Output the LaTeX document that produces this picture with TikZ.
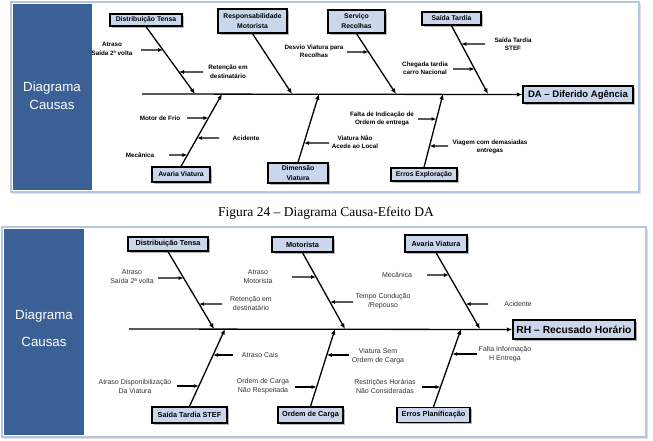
\documentclass[tikz,border=0pt]{standalone}
\usepackage{fontspec}
\setmainfont{Liberation Sans}
\newfontfamily\capfont{Liberation Serif}
\usetikzlibrary{arrows.meta,shadows}
\definecolor{panelblue}{HTML}{3B6095}
\definecolor{framec}{HTML}{B5C7DF}
\definecolor{boxfill}{HTML}{CAD6EB}
\begin{document}
\begin{tikzpicture}[x=1pt,y=-1pt,
 frame/.style={draw=framec, line width=2.5pt, fill=white, drop shadow={shadow xshift=1.5pt, shadow yshift=-1.5pt, opacity=0.25}},
 panel/.style={fill=panelblue, draw=none},
 paneltext/.style={text=white, inner sep=0pt, font=\fontsize{13.3}{15}\selectfont},
 cause/.style={draw, line width=1.3pt, fill=boxfill, align=center, inner sep=0pt, font=\fontsize{6.8}{10}\bfseries\selectfont, drop shadow={shadow xshift=1.8pt, shadow yshift=-1.8pt, fill=gray!70, opacity=0.8}},
 causeb/.style={cause, font=\fontsize{7.3}{10}\bfseries\selectfont},
 effect/.style={cause, font=\fontsize{9.5}{11}\bfseries\selectfont},
 effectb/.style={cause, font=\fontsize{10.3}{12}\bfseries\selectfont},
 lab/.style={align=center, inner sep=0pt, font=\fontsize{6.3}{8.5}\bfseries\selectfont},
 labb/.style={align=center, inner sep=0pt, font=\fontsize{7}{9}\selectfont, text=black!80},
 bone/.style={line width=1.3pt, -{Latex[length=5.5pt,width=4.5pt]}},
 sub/.style={line width=1.2pt, -{Latex[length=5pt,width=4pt]}},
]
\useasboundingbox (0,0) rectangle (653,440);

% ---------------- top diagram ----------------
\path[frame] (11,2) rectangle (639,192);
\path[panel] (13,4) rectangle (92,190);
\node[paneltext] (pd1) at (52,88) {Diagrama};
\node[paneltext] (pc1) at (52,105) {Causas};

\node[effect, minimum width=110pt, minimum height=17pt] (DA) at (578,94.5) {DA – Diferido Agência};
\coordinate (s0) at (142,94);
\draw[bone] (s0) -- (DA.west);

\node[cause, minimum width=72pt, minimum height=12pt] (DT1) at (146,20) {Distribuição Tensa};
\node[cause, minimum width=69pt, minimum height=24pt] (RM) at (252.5,21) {Responsabilidade\\Motorista};
\node[cause, minimum width=57pt, minimum height=23pt] (SR) at (356.5,21.5) {Serviço\\Recolhas};
\node[cause, minimum width=59pt, minimum height=13pt] (ST) at (451.5,18.5) {Saída Tardia};
\node[cause, minimum width=58pt, minimum height=15pt] (AV) at (181,174.5) {Avaria Viatura};
\node[cause, minimum width=60pt, minimum height=20pt] (DV) at (298,173) {Dimensão\\Viatura};
\node[cause, minimum width=66pt, minimum height=13pt] (EE) at (424,174.5) {Erros Exploração};

\coordinate (t1) at (195,94);
\coordinate (t2) at (292,94);
\coordinate (t3) at (396,94);
\coordinate (t4) at (488,94);
\coordinate (t5) at (222,94);
\coordinate (t6) at (319,94);
\coordinate (t7) at (443,94);
\draw[bone] (DT1.south) -- (t1);
\draw[bone] (RM.south) -- (t2);
\draw[bone] (SR.south) -- (t3);
\draw[bone] (ST.south) -- (t4);
\draw[bone] (AV.north) -- (t5);
\draw[bone] (DV.north) -- (t6);
\draw[bone] (EE.north) -- (t7);

\node[lab] (L1) at (112,49) {Atraso\\Saída 2ª volta};
\coordinate (a1) at (141,50);
\draw[sub] (a1) -- (intersection of DT1.south--t1 and 0,50--600,50);
\node[lab] (L2) at (228,72) {Retenção em\\destinatário};
\coordinate (a2) at (203,72);
\draw[sub] (a2) -- (intersection of DT1.south--t1 and 0,72--600,72);

\node[lab] (L3) at (314,51) {Desvio Viatura para\\Recolhas};
\coordinate (a3) at (347,52);
\draw[sub] (a3) -- (intersection of SR.south--t3 and 0,52--600,52);

\node[lab] (L4) at (513,44) {Saída Tardia\\STEF};
\coordinate (a4) at (485,44);
\draw[sub] (a4) -- (intersection of ST.south--t4 and 0,44--600,44);
\node[lab] (L5) at (425,68) {Chegada tardia\\carro Nacional};
\coordinate (a5) at (453,69);
\draw[sub] (a5) -- (intersection of ST.south--t4 and 0,69--600,69);

\node[lab] (L6) at (160,118) {Motor de Frio};
\coordinate (a6) at (187,118);
\draw[sub] (a6) -- (intersection of AV.north--t5 and 0,118--600,118);
\node[lab] (L7) at (246,138) {Acidente};
\coordinate (a7) at (219,138);
\draw[sub] (a7) -- (intersection of AV.north--t5 and 0,138--600,138);
\node[lab] (L8) at (140,155) {Mecânica};
\coordinate (a8) at (169,155);
\draw[sub] (a8) -- (intersection of AV.north--t5 and 0,155--600,155);

\node[lab] (L9) at (355,142) {Viatura Não\\Acede ao Local};
\coordinate (a9) at (329,143);
\draw[sub] (a9) -- (intersection of DV.north--t6 and 0,143--600,143);

\node[lab] (L10) at (382,119) {Falta de Indicação de\\Ordem de entrega};
\coordinate (a10) at (418,119);
\draw[sub] (a10) -- (intersection of EE.north--t7 and 0,119--600,119);
\node[lab] (L11) at (490,147) {Viagem com demasiadas\\entregas};
\coordinate (a11) at (448,146);
\draw[sub] (a11) -- (intersection of EE.north--t7 and 0,146--600,146);

% ---------------- caption ----------------
\node[inner sep=0pt, font=\capfont\fontsize{13.5}{15}\selectfont] (cap) at (326,213) {Figura 24 – Diagrama Causa-Efeito DA};

% ---------------- bottom diagram ----------------
\path[frame] (2,227) rectangle (646,437);
\path[panel] (4,229) rectangle (84,435);
\node[paneltext] (pd2) at (44,316) {Diagrama};
\node[paneltext] (pc2) at (44,342) {Causas};

\node[effectb, minimum width=122pt, minimum height=19pt] (RH) at (574,329.5) {RH – Recusado Horário};
\coordinate (u0) at (129,329);
\draw[bone] (u0) -- (RH.west);

\node[causeb, minimum width=80pt, minimum height=14pt] (DT2) at (168,244) {Distribuição Tensa};
\node[causeb, minimum width=61pt, minimum height=15pt] (MO) at (302.5,244.5) {Motorista};
\node[causeb, minimum width=62pt, minimum height=17pt] (AV2) at (436,243.5) {Avaria Viatura};
\node[causeb, minimum width=75pt, minimum height=16pt] (SS) at (189.5,415) {Saída Tardia STEF};
\node[causeb, minimum width=65pt, minimum height=16pt] (OC) at (310.5,415) {Ordem de Carga};
\node[causeb, minimum width=73pt, minimum height=15pt] (EP) at (433.5,415) {Erros Planificação};

\coordinate (v1) at (214,329);
\coordinate (v2) at (345,329);
\coordinate (v3) at (480,329);
\coordinate (v4) at (225,329);
\coordinate (v5) at (335,329);
\coordinate (v6) at (461,329);
\draw[bone] (DT2.south) -- (v1);
\draw[bone] (MO.south) -- (v2);
\draw[bone] (AV2.south) -- (v3);
\draw[bone] (SS.north) -- (v4);
\draw[bone] (OC.north) -- (v5);
\draw[bone] (EP.north) -- (v6);

\node[labb] (M1) at (132,277) {Atraso\\Saída 2ª volta};
\coordinate (b1) at (158,278);
\draw[sub] (b1) -- (intersection of DT2.south--v1 and 0,278--600,278);
\node[labb] (M2) at (251,304) {Retenção em\\destinatário};
\coordinate (b2) at (222,304);
\draw[sub] (b2) -- (intersection of DT2.south--v1 and 0,304--600,304);

\node[labb] (M3) at (258,277) {Atraso\\Motorista};
\coordinate (b3) at (292,277);
\draw[sub] (b3) -- (intersection of MO.south--v2 and 0,277--600,277);
\node[labb] (M4) at (383,301) {Tempo Condução\\/Repouso};
\coordinate (b4) at (353,302);
\draw[sub] (b4) -- (intersection of MO.south--v2 and 0,302--600,302);

\node[labb] (M5) at (397,275) {Mecânica};
\coordinate (b5) at (427,275);
\draw[sub] (b5) -- (intersection of AV2.south--v3 and 0,275--600,275);
\node[labb] (M6) at (518,304) {Acidente};
\coordinate (b6) at (488,304);
\draw[sub] (b6) -- (intersection of AV2.south--v3 and 0,304--600,304);

\node[labb] (M7) at (260,355) {Atraso Cais};
\coordinate (b7) at (233,355);
\draw[sub] (b7) -- (intersection of SS.north--v4 and 0,355--600,355);
\node[labb] (M8) at (135,386) {Atraso Disponibilização\\Da Viatura};
\coordinate (b8) at (177,386);
\draw[sub] (b8) -- (intersection of SS.north--v4 and 0,386--600,386);

\node[labb] (M9) at (263,386) {Ordem de Carga\\Não Respeitada};
\coordinate (b9) at (295,387);
\draw[sub] (b9) -- (intersection of OC.north--v5 and 0,387--600,387);
\node[labb] (M10) at (378,356) {Viatura Sem\\Ordem de Carga};
\coordinate (b10) at (349,355);
\draw[sub] (b10) -- (intersection of OC.north--v5 and 0,355--600,355);

\node[labb] (M11) at (505,354) {Falta Informação\\H Entrega};
\coordinate (b11) at (477,354);
\draw[sub] (b11) -- (intersection of EP.north--v6 and 0,354--600,354);
\node[labb] (M12) at (385,386) {Restrições Horárias\\Não Consideradas};
\coordinate (b12) at (422,387);
\draw[sub] (b12) -- (intersection of EP.north--v6 and 0,387--600,387);
\end{tikzpicture}
\end{document}
